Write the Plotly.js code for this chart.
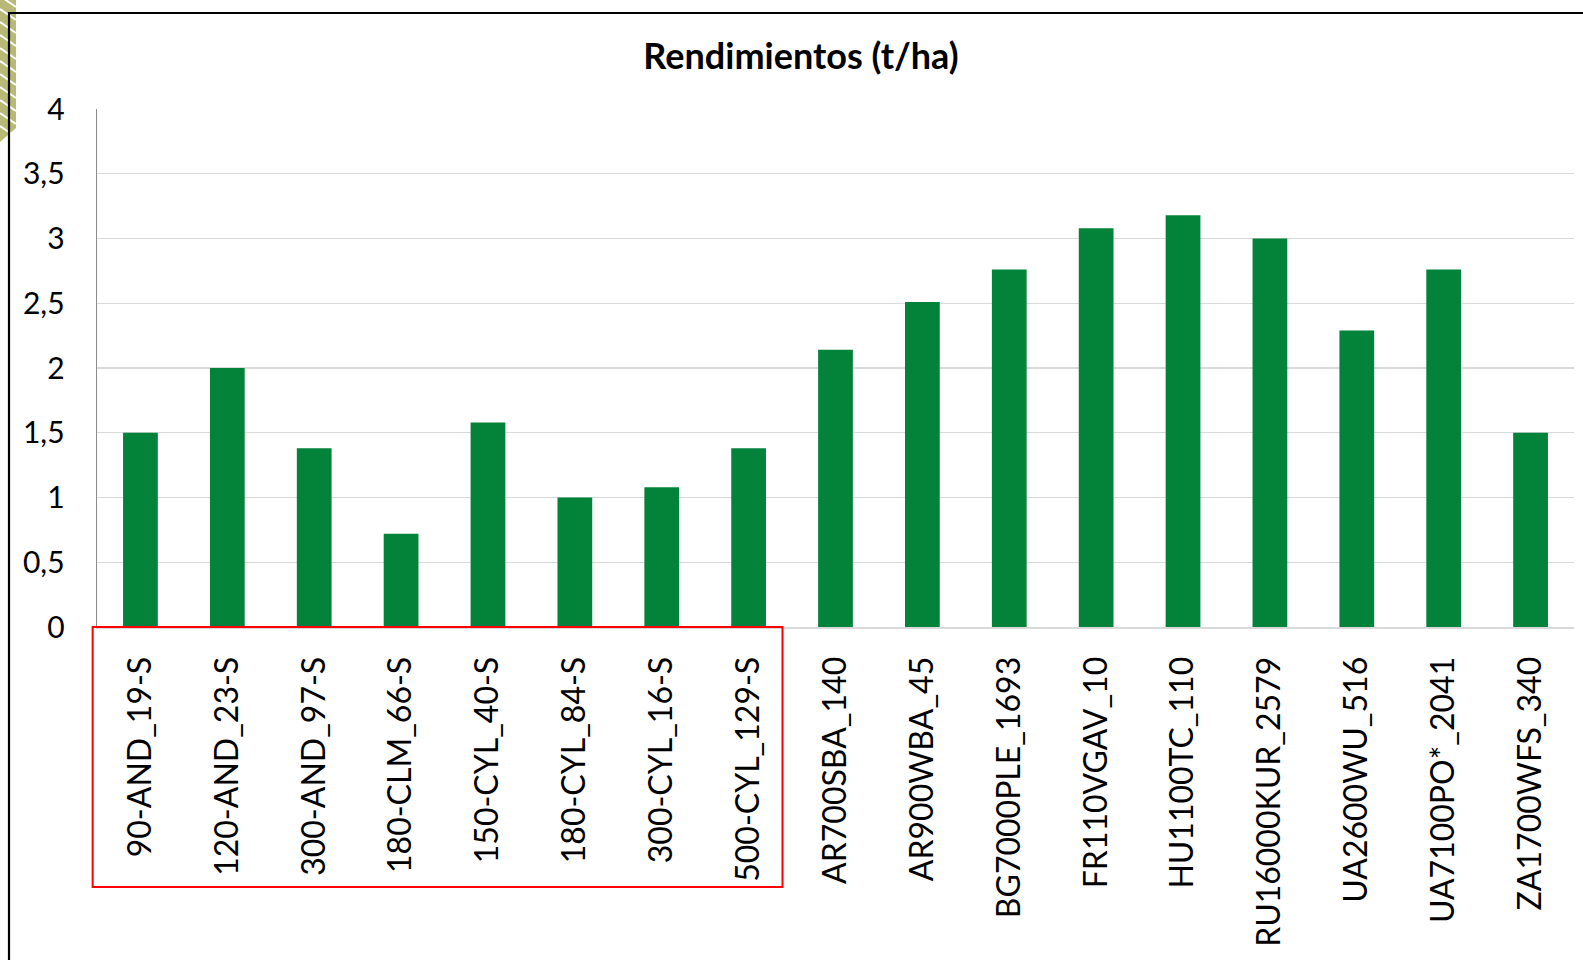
<!DOCTYPE html>
<html>
<head>
<meta charset="utf-8">
<script src="https://cdn.plot.ly/plotly-3.0.1.min.js"></script>
<style>
  html, body { margin: 0; padding: 0; background: #ffffff; }
  #chart { width: 1583px; height: 960px; }
</style>
</head>
<body>
<div id="chart"></div>
<script>
// ---- Data ----
const categories = [
  "90-AND_19-S", "120-AND_23-S", "300-AND_97-S", "180-CLM_66-S",
  "150-CYL_40-S", "180-CYL_84-S", "300-CYL_16-S", "500-CYL_129-S",
  "AR700SBA_140", "AR900WBA_45", "BG7000PLE_1693", "FR110VGAV_10",
  "HU1100TC_110", "RU16000KUR_2579", "UA2600WU_516", "UA7100PO*_2041",
  "ZA1700WFS_340"
];
const rendimientos = [
  1.5, 2.0, 1.38, 0.72,
  1.58, 1.0, 1.08, 1.38,
  2.14, 2.51, 2.76, 3.08,
  3.18, 3.0, 2.29, 2.76,
  1.5
];
const yTicks = [0, 0.5, 1, 1.5, 2, 2.5, 3, 3.5, 4];
const chartTitle = "Rendimientos (t/ha)";
const highlightedCount = 8; // first 8 categories are framed in red

// ---- Layout helpers ----
const W = 1583, H = 960;
const M = { l: 97, r: 9, t: 109, b: 333 };
const plotW = W - M.l - M.r, plotH = H - M.t - M.b;
const px2paperX = p => (p - M.l) / plotW;
const px2paperY = p => (H - M.b - p) / plotH;
const cat2paperX = c => (c + 0.5) / categories.length;

const FONT = "Lato, 'Open Sans', sans-serif";

const trace = {
  type: "bar",
  x: categories,
  y: rendimientos,
  marker: { color: "#03833A", line: { width: 0 } },
  hoverinfo: "x+y"
};

// decorative olive strip with white diagonal stripes (top-left corner)
const deco = [];
deco.push({
  type: "path", xref: "paper", yref: "paper", layer: "below",
  path: `M ${px2paperX(0)},${px2paperY(0)} L ${px2paperX(16)},${px2paperY(0)} L ${px2paperX(16)},${px2paperY(128)} L ${px2paperX(0)},${px2paperY(142)} Z`,
  fillcolor: "#B9B977", line: { width: 0 }
});
for (let k = 0; k < 11; k++) {
  const y0 = -4 + k * 13;
  deco.push({
    type: "line", xref: "paper", yref: "paper", layer: "below",
    x0: px2paperX(0), y0: px2paperY(y0),
    x1: px2paperX(16), y1: px2paperY(y0 + 11),
    line: { color: "#ffffff", width: 2 }
  });
}

const shapes = deco.concat([
  // black frame (top and left)
  { type: "line", xref: "paper", yref: "paper",
    x0: px2paperX(9), x1: px2paperX(W + 5), y0: px2paperY(13), y1: px2paperY(13),
    line: { color: "#000000", width: 2.2 } },
  { type: "line", xref: "paper", yref: "paper",
    x0: px2paperX(9), x1: px2paperX(9), y0: px2paperY(12), y1: px2paperY(H + 5),
    line: { color: "#000000", width: 2.2 } },
  // red highlight frame around first group of labels
  { type: "rect", xref: "paper", yref: "paper",
    x0: cat2paperX(-0.55), x1: cat2paperX(highlightedCount - 0.61),
    y0: px2paperY(887), y1: px2paperY(627),
    line: { color: "#FF0000", width: 2 }, fillcolor: "rgba(0,0,0,0)" }
]);

const layout = {
  width: W, height: H,
  margin: M,
  paper_bgcolor: "#ffffff",
  plot_bgcolor: "#ffffff",
  separators: ",.",
  showlegend: false,
  bargap: 0.6,
  font: { family: FONT, color: "#000000" },
  title: {
    text: "<b>" + chartTitle + "</b>",
    font: { family: FONT, size: 36, color: "#000000" },
    x: 801 / W, xref: "container", xanchor: "center",
    y: 1 - 56 / H, yref: "container", yanchor: "middle"
  },
  xaxis: {
    type: "category",
    range: [-0.5, categories.length - 0.5],
    tickangle: -90,
    tickfont: { family: FONT, size: 32, color: "#000000" },
    ticks: "",
    ticklabelstandoff: 15,
    showline: true, linecolor: "#D9D9D9", linewidth: 2,
    showgrid: false, zeroline: false,
    fixedrange: true
  },
  yaxis: {
    range: [0, 4],
    tickvals: yTicks,
    tickfont: { family: FONT, size: 30, color: "#000000" },
    ticks: "",
    ticklabelstandoff: 25,
    showgrid: true, gridcolor: "#D9D9D9", gridwidth: 1.4,
    zeroline: false,
    showline: true, linecolor: "#8C8C8C", linewidth: 1.4,
    fixedrange: true
  },
  shapes: shapes
};

Plotly.newPlot("chart", [trace], layout, { displayModeBar: false, staticPlot: true });
</script>
</body>
</html>
